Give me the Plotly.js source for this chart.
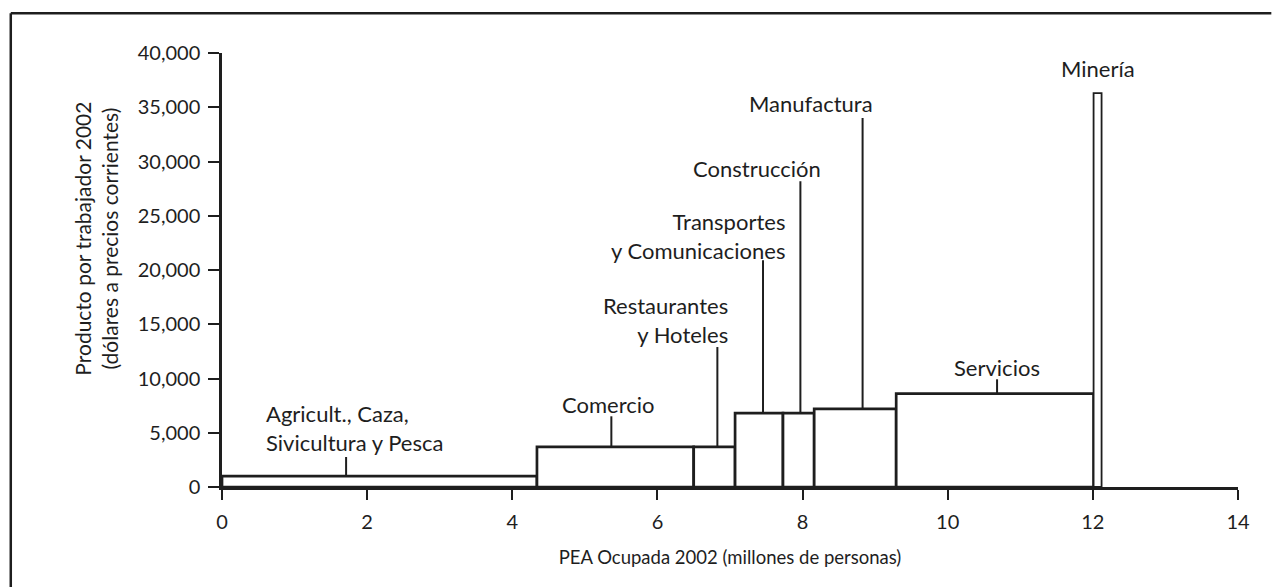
<!DOCTYPE html>
<html>
<head>
<meta charset="utf-8">
<script src="https://cdn.plot.ly/plotly-3.0.1.min.js"></script>
<style>html,body{margin:0;padding:0;background:#fff;}#chart{width:1284px;height:587px;}</style>
</head>
<body>
<div id="chart"></div>
<script>
// Sectors (widths = PEA ocupada, millones; heights = producto por trabajador, US$)
const sectors = ["Agricult., Caza, Sivicultura y Pesca", "Comercio", "Restaurantes y Hoteles",
  "Transportes y Comunicaciones", "Construcción", "Manufactura", "Servicios", "Minería"];
const pea = [4.34, 2.16, 0.57, 0.66, 0.43, 1.13, 2.72, 0.11];
const producto = [1000, 3700, 3700, 6800, 6800, 7200, 8600, 36300];
const xTicks = [0, 2, 4, 6, 8, 10, 12, 14];
const yTicks = [0, 5000, 10000, 15000, 20000, 25000, 30000, 35000, 40000];
const xTitle = 'PEA Ocupada 2002 (millones de personas)';
const yTitle = 'Producto por trabajador 2002<br>(dólares a precios corrientes)';

// left edges derived from cumulative widths
const lefts = [];
let acc = 0;
pea.forEach(w => { lefts.push(acc); acc += w; });

const FONT = 'Lato, "Open Sans", sans-serif';
const INK = '#1e1e1e';

// label layout: [sector index, label text, text x, text y, xanchor, leader x, leader top]
const labelLayout = [
  [0, 'Agricult., Caza,<br>Sivicultura y Pesca', 0.58, 5410, 'left', 1.71, 2765],
  [1, 'Comercio', 5.316, 7620, 'center', 5.365, 6516],
  [2, 'Restaurantes<br>y Hoteles', 6.995, 15365, 'right', 6.826, 12900],
  [3, 'Transportes<br>y Comunicaciones', 7.786, 23153, 'right', 7.455, 20900],
  [4, 'Construcción', 7.376, 29374, 'center', 7.97, 28180],
  [5, 'Manufactura', 8.12, 35366, 'center', 8.827, 34000],
  [6, 'Servicios', 10.68, 11033, 'center', 10.68, 9927],
  [7, 'Minería', 12.075, 38589, 'center', null, null]
];

const annotations = labelLayout.map(l => ({
  text: l[1], x: l[2], y: l[3], xref: 'x', yref: 'y', showarrow: false,
  xanchor: l[4], yanchor: 'middle', align: l[4] === 'center' ? 'center' : l[4],
  font: {family: FONT, size: 22, color: INK}
}));

// y-axis title (placed as rotated annotation to match its raised position)
annotations.push({
  text: yTitle, xref: 'paper', yref: 'paper', x: -0.1237, y: 0.573,
  xanchor: 'center', yanchor: 'middle', textangle: -90, showarrow: false,
  font: {family: FONT, size: 21, color: INK}
});

const shapes = labelLayout.filter(l => l[5] !== null).map(l => ({
  type: 'line', xref: 'x', yref: 'y', x0: l[5], x1: l[5], y0: producto[l[0]], y1: l[6],
  line: {color: INK, width: 2}
}));

// outer frame (left + top)
shapes.push({type: 'line', xref: 'paper', yref: 'paper', x0: -0.2079, x1: -0.2079, y0: 1.0915, y1: -0.25,
  line: {color: INK, width: 2.5}});
shapes.push({type: 'line', xref: 'paper', yref: 'paper', x0: -0.2079, x1: 1.0328, y0: 1.0915, y1: 1.0915,
  line: {color: INK, width: 2.5}});

const trace = {
  type: 'bar', x: lefts, y: producto, width: pea, offset: 0, base: 0,
  text: sectors, hoverinfo: 'text+y',
  textposition: 'none',
  marker: {color: '#ffffff', line: {color: INK, width: pea.map(w => w < 0.2 ? 1.8 : 2.7)}}
};

const layout = {
  width: 1284, height: 587,
  margin: {l: 221.7, r: 46.3, t: 52.7, b: 100.3, pad: 0},
  paper_bgcolor: '#ffffff', plot_bgcolor: '#ffffff',
  showlegend: false,
  font: {family: FONT, size: 20, color: INK},
  xaxis: {
    range: [0, 14], tickvals: xTicks, ticktext: xTicks.map(String),
    ticks: 'outside', ticklen: 10, tickwidth: 2, tickcolor: INK,
    showline: true, linecolor: INK, linewidth: 2.7, showgrid: false, zeroline: false,
    ticklabelstandoff: 5,
    tickfont: {family: FONT, size: 20, color: INK},
    title: {text: xTitle, font: {family: FONT, size: 18.5, color: INK}, standoff: 20}
  },
  yaxis: {
    range: [0, 40000], tickvals: yTicks, tickformat: ',d',
    ticks: 'outside', ticklen: 11, tickwidth: 2, tickcolor: INK,
    showline: true, linecolor: INK, linewidth: 2.7, showgrid: false, zeroline: false,
    ticklabelstandoff: 4,
    tickfont: {family: FONT, size: 20, color: INK}
  },
  annotations: annotations,
  shapes: shapes
};

Plotly.newPlot('chart', [trace], layout, {displayModeBar: false, staticPlot: true});
</script>
</body>
</html>
